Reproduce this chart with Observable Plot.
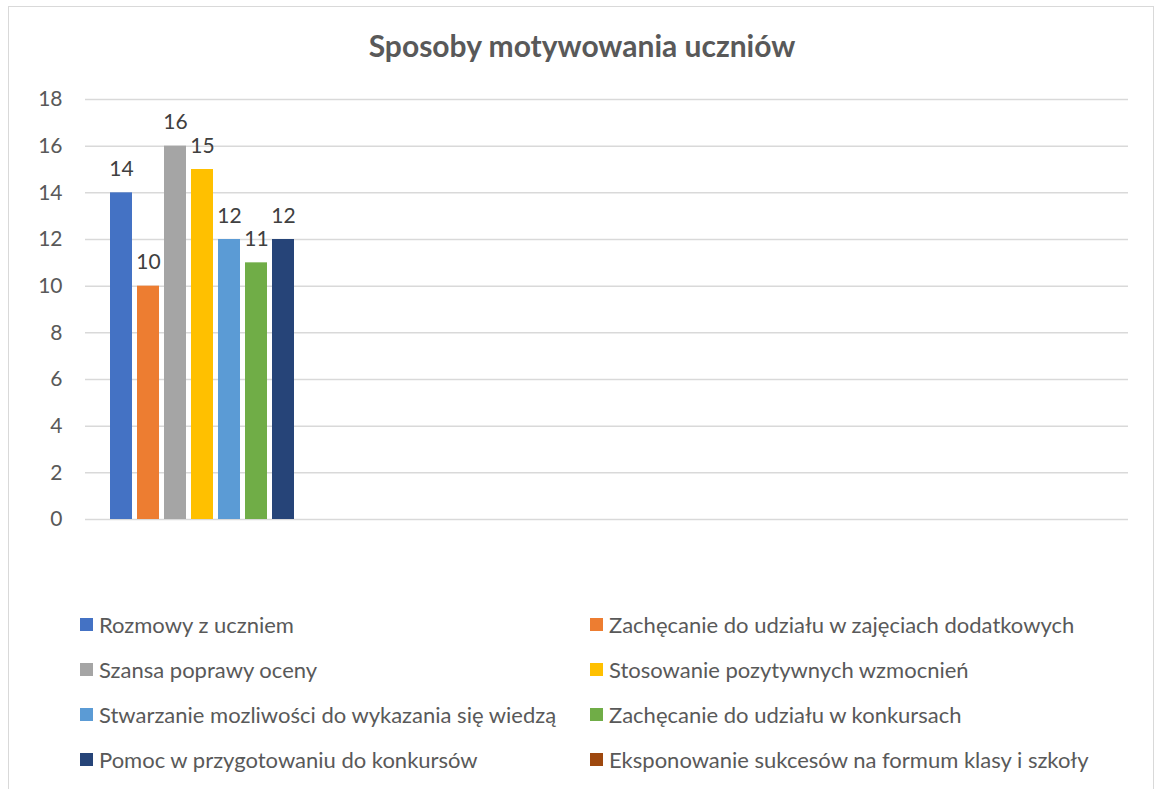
<!DOCTYPE html>
<html>
<head>
<meta charset="utf-8">
<script src="https://cdn.jsdelivr.net/npm/d3@7"></script>
<script src="https://cdn.jsdelivr.net/npm/@observablehq/plot@0.6"></script>
<style>
  html, body { margin: 0; padding: 0; background: #fff; }
  body { width: 1156px; height: 789px; position: relative; overflow: hidden; font-family: Lato, "Open Sans", sans-serif; color: #595959; }
  #frame { position: absolute; left: 8px; top: 6px; width: 1146px; height: 800px; border: 1.5px solid #d9d9d9; box-sizing: border-box; }
  #title { position: absolute; left: 0; top: 27px; width: 1164px; text-align: center; font-weight: bold; font-size: 30px; line-height: 36px; color: #595959; }
  #chart { position: absolute; left: 0; top: 0; }
  #legend { position: absolute; left: 80px; top: 602px; display: grid; grid-template-columns: 510px 560px; row-gap: 0; }
  .item { display: flex; align-items: center; height: 45px; font-size: 22px; color: #595959; white-space: nowrap; }
  .sw { width: 13px; height: 13px; margin-right: 6px; flex: none; }
</style>
</head>
<body>
<div id="frame"></div>
<div id="title">Sposoby motywowania uczniów</div>
<div id="chart"></div>
<div id="legend"></div>
<script>
const series = [
  "Rozmowy z uczniem",
  "Zachęcanie do udziału w zajęciach dodatkowych",
  "Szansa poprawy oceny",
  "Stosowanie pozytywnych wzmocnień",
  "Stwarzanie mozliwości do wykazania się wiedzą",
  "Zachęcanie do udziału w konkursach",
  "Pomoc w przygotowaniu do konkursów",
  "Eksponowanie sukcesów na formum klasy i szkoły"
];
const values = [14, 10, 16, 15, 12, 11, 12, null];
const colors = ["#4472C4", "#ED7D31", "#A5A5A5", "#FFC000", "#5B9BD5", "#70AD47", "#264478", "#9E480E"];
const yTicks = [0, 2, 4, 6, 8, 10, 12, 14, 16, 18];
const categoryCount = 4; // category slots on the x axis; only the first one holds data

const data = series.map((s, i) => ({series: s, value: values[i]}));
const barData = data.filter(d => d.value != null);

const W = 1156, H = 560;
const mL = 85, mR = 28, mT = 99, mB = 41;
const bandW = (W - mL - mR) / categoryCount;

const chart = Plot.plot({
  width: W,
  height: H,
  marginLeft: mL,
  marginRight: mR,
  marginTop: mT,
  marginBottom: mB,
  style: {fontFamily: "Lato, 'Open Sans', sans-serif", color: "#595959", background: "transparent", overflow: "visible"},
  x: {domain: series, range: [mL, mL + bandW], paddingInner: 0.2, paddingOuter: 0.84, axis: null},
  y: {domain: [0, 18], ticks: yTicks, label: null, tickSize: 0, tickPadding: 23, tickFormat: d => String(d)},
  color: {domain: series, range: colors},
  marks: [
    Plot.ruleY(yTicks, {stroke: "#d9d9d9", strokeWidth: 1.5}),
    Plot.axisY({ticks: yTicks, tickSize: 0, tickPadding: 23, fontSize: 21, fill: "#595959", label: null}),
    Plot.barY(barData, {x: "series", y: "value", fill: "series"}),
    Plot.text(barData, {x: "series", y: "value", text: d => String(d.value), dy: -17, lineAnchor: "bottom", fontSize: 21, fill: "#404040"})
  ]
});
document.getElementById("chart").appendChild(chart);

const legend = document.getElementById("legend");
series.forEach((s, i) => {
  const it = document.createElement("div");
  it.className = "item";
  const sw = document.createElement("span");
  sw.className = "sw";
  sw.style.background = colors[i];
  const tx = document.createElement("span");
  tx.textContent = s;
  it.appendChild(sw);
  it.appendChild(tx);
  legend.appendChild(it);
});
</script>
</body>
</html>
